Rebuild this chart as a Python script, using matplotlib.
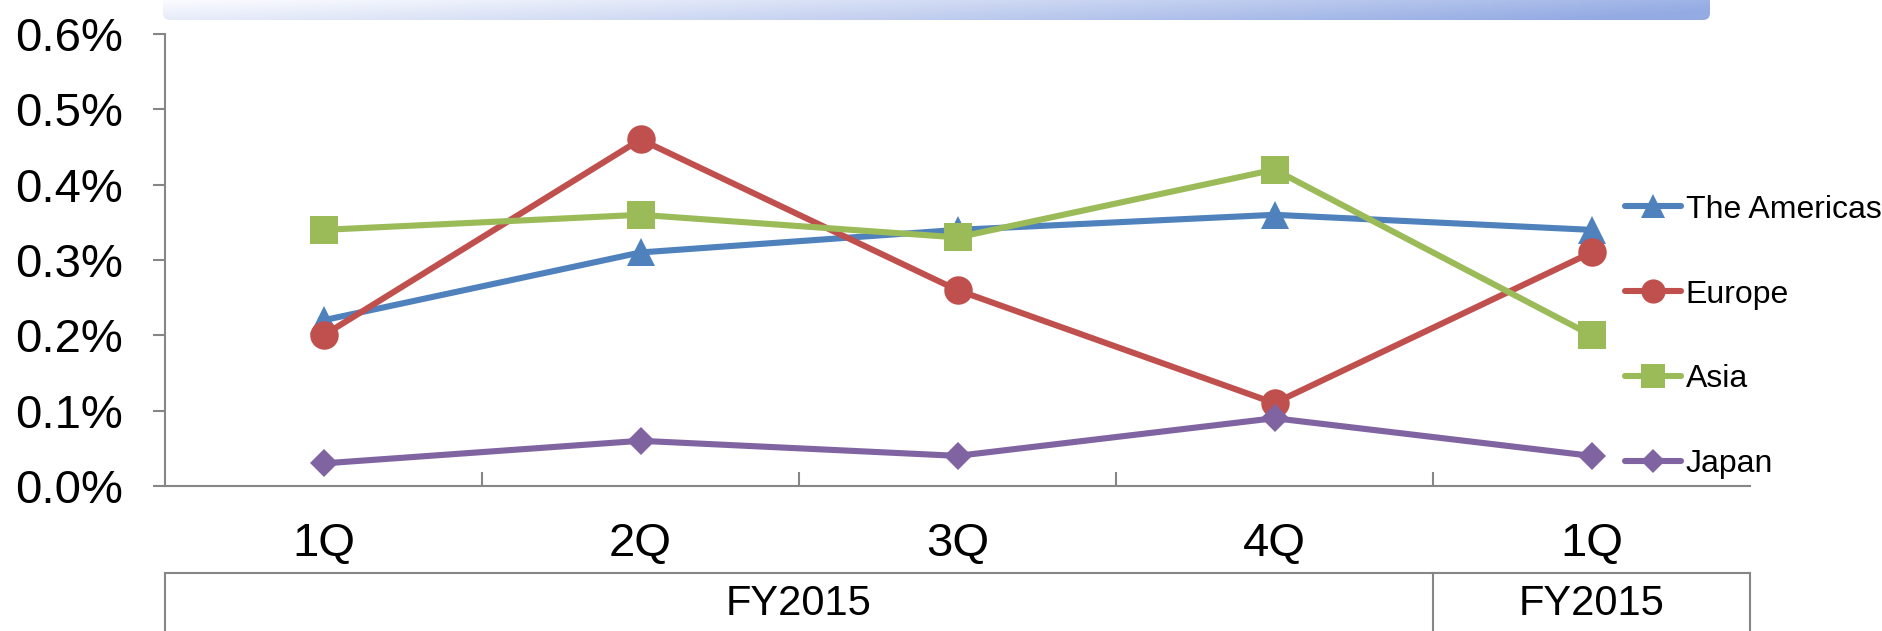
import numpy as np
import matplotlib
matplotlib.use("Agg")
import matplotlib.pyplot as plt
from matplotlib.patches import FancyBboxPatch
from matplotlib.ticker import PercentFormatter, FixedLocator
from matplotlib.transforms import blended_transform_factory

plt.rcParams['font.family'] = ['Liberation Sans', 'DejaVu Sans']

# quarterly ratios (%) by region
quarters = ["1Q", "2Q", "3Q", "4Q", "1Q"]
fiscal_years = ["FY2015", "FY2015"]
americas = [0.22, 0.31, 0.34, 0.36, 0.34]
europe = [0.20, 0.46, 0.26, 0.11, 0.31]
asia = [0.34, 0.36, 0.33, 0.42, 0.20]
japan = [0.03, 0.06, 0.04, 0.09, 0.04]

series = [
    ("The Americas", americas, "#4F81BD", "^", 20.5),
    ("Europe", europe, "#C0504D", "o", 20.5),
    ("Asia", asia, "#9BBB59", "s", 19.5),
    ("Japan", japan, "#8064A2", "D", 14.5),
]

W, H = 1883, 631
fig = plt.figure(figsize=(W / 100, H / 100), dpi=100)

# header banner with gradient fill
bx0, bx1, bh = 163, 1710, 20
bax = fig.add_axes([bx0 / W, 1 - bh / H, (bx1 - bx0) / W, bh / H])
bax.set_xlim(0, bx1 - bx0)
bax.set_ylim(0, bh)
bax.axis("off")
gx, gy = np.meshgrid(np.linspace(0, 1, 400), np.linspace(0, 1, 20))
t = np.clip(0.9 * gx ** 1.2 + 0.2 * gy, 0, 1)[..., None]
c0 = np.array([0.98, 0.985, 0.998])
c1 = np.array([0.58, 0.67, 0.89])
grad = c0 * (1 - t) + c1 * t
im = bax.imshow(grad, extent=(0, bx1 - bx0, 0, bh), origin="upper", aspect="auto")
clip = FancyBboxPatch((0, 0), bx1 - bx0, 2 * bh, boxstyle="round,pad=0,rounding_size=7",
                      transform=bax.transData, facecolor="none", edgecolor="none")
bax.add_patch(clip)
im.set_clip_path(clip)

ax = fig.add_axes([165 / W, 1 - 486 / H, (1750 - 165) / W, (486 - 34) / H])
x = np.arange(len(quarters))
for name, vals, color, marker, ms in series:
    ax.plot(x, vals, color=color, lw=4.4, marker=marker, markersize=ms,
            markeredgewidth=0, solid_capstyle="round", label=name,
            clip_on=False, zorder=3)

ax.set_xlim(-0.5, len(quarters) - 0.5)
ax.set_ylim(0, 0.6)
ax.set_yticks(np.arange(0, 0.61, 0.1))
ax.yaxis.set_major_formatter(PercentFormatter(xmax=100, decimals=1))
ax.set_xticks(x)
ax.set_xticklabels(quarters)
ax.xaxis.set_minor_locator(FixedLocator([0.5, 1.5, 2.5, 3.5]))

axis_gray = "#868686"
for side in ["top", "right"]:
    ax.spines[side].set_visible(False)
for side in ["left", "bottom"]:
    ax.spines[side].set_color(axis_gray)
    ax.spines[side].set_linewidth(1.5)
ax.tick_params(axis="y", length=9, width=1.5, color=axis_gray, labelsize=34, pad=21)
ax.tick_params(axis="x", which="major", length=0, labelsize=34, pad=26)
ax.tick_params(axis="x", which="minor", direction="in", length=10, width=1.5, color=axis_gray)

# fiscal year grouping box under the quarter labels
tr = blended_transform_factory(ax.transData, ax.transAxes)
y_top, y_bot = -0.193, -0.33
ax.plot([-0.5, 4.5], [y_top, y_top], color=axis_gray, lw=1.5, transform=tr, clip_on=False)
for xv in [-0.5, 3.5, 4.5]:
    ax.plot([xv, xv], [y_top, y_bot], color=axis_gray, lw=1.5, transform=tr, clip_on=False)
for xc, label in zip([1.5, 4.0], fiscal_years):
    ax.text(xc, -0.26, label, transform=tr, ha="center", va="center", fontsize=30)

ax.legend(loc="center left", bbox_to_anchor=(1625 / W, 1 - 337 / H),
          bbox_transform=fig.transFigure, frameon=False, fontsize=23,
          handlelength=1.75, handletextpad=0.15, labelspacing=1.72,
          borderpad=0, borderaxespad=0, markerscale=0.85)

fig.savefig("out.png", dpi=100)
